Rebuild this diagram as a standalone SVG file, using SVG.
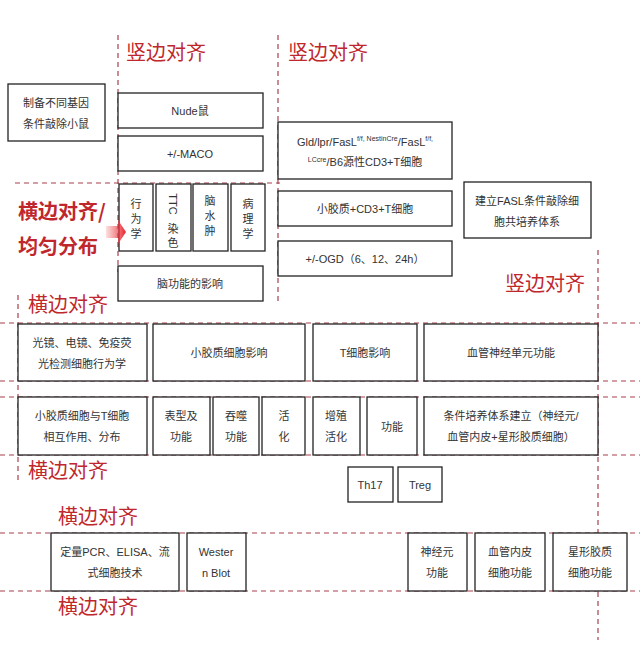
<svg xmlns="http://www.w3.org/2000/svg" width="640" height="645" viewBox="0 0 640 645">
<style>
.b{fill:#fff;stroke:#222;stroke-width:1.3}
.t{font-family:"Liberation Sans","Noto Sans CJK SC",sans-serif;font-size:11px;fill:#333;text-anchor:middle}
.r{font-family:"Noto Sans CJK SC",sans-serif;font-size:20px;fill:#c0272d}
.d{stroke:#a8404c;stroke-width:1.2;stroke-dasharray:5,4;fill:none}
</style>
<defs><linearGradient id="g" x1="0" x2="1"><stop offset="0" stop-color="#f06060" stop-opacity="0.2"/><stop offset="1" stop-color="#e8202a"/></linearGradient></defs>
<rect width="640" height="645" fill="#fff"/>
<g id="connectors">
<path class="d" d="M118,35V272M278,35V302M18,295V482M598,250V640M15,183H280M0,323H640M0,381H640M0,397H640M0,455H640M0,533H640M0,591H640"/>
</g>
<g id="labels">
<text class="r" x="126" y="60">竖边对齐</text>
<text class="r" x="288" y="60">竖边对齐</text>
<text class="r" x="505" y="291">竖边对齐</text>
<text class="r" x="18" y="219" font-weight="bold">横边对齐/</text>
<text class="r" x="18" y="254" font-weight="bold">均匀分布</text>
<text class="r" x="28" y="312">横边对齐</text>
<text class="r" x="28" y="478">横边对齐</text>
<text class="r" x="58" y="524">横边对齐</text>
<text class="r" x="58" y="614">横边对齐</text>
</g>
<g id="n1"><rect class="b" x="8" y="84" width="97" height="57"/><text class="t" x="56" y="107">制备不同基因</text><text class="t" x="56" y="128">条件敲除小鼠</text></g>
<g id="n2"><rect class="b" x="118" y="93" width="145" height="35"/><text class="t" x="190" y="115">Nude鼠</text></g>
<g id="n3"><rect class="b" x="118" y="136" width="145" height="35"/><text class="t" x="190" y="158">+/-MACO</text></g>
<g id="n4"><rect class="b" x="119" y="184" width="34" height="67"/><text class="t" x="136" y="208">行</text><text class="t" x="136" y="223">为</text><text class="t" x="136" y="238">学</text></g>
<g id="n5"><rect class="b" x="156" y="184" width="35" height="67"/><text class="t" x="0" y="0" transform="translate(169,204) rotate(90)" text-anchor="start">TTC</text><text class="t" x="173" y="233">染</text><text class="t" x="173" y="247">色</text></g>
<g id="n6"><rect class="b" x="193" y="184" width="35" height="67"/><text class="t" x="210" y="205">脑</text><text class="t" x="210" y="220">水</text><text class="t" x="210" y="235">肿</text></g>
<g id="n7"><rect class="b" x="231" y="184" width="34" height="67"/><text class="t" x="248" y="208">病</text><text class="t" x="248" y="223">理</text><text class="t" x="248" y="238">学</text></g>
<g id="n8"><rect class="b" x="118" y="266" width="145" height="35"/><text class="t" x="190" y="288">脑功能的影响</text></g>
<g id="n9"><rect class="b" x="278" y="122" width="174" height="57"/>
<text class="t" x="365" y="146">Gld/lpr/FasL<tspan font-size="7" dy="-5">f/f, NestinCre</tspan><tspan dy="5">/FasL</tspan><tspan font-size="7" dy="-5">f/f,</tspan></text>
<text class="t" x="365" y="166"><tspan font-size="7" dy="-4">LCcre</tspan><tspan dy="4">/B6源性CD3+T细胞</tspan></text></g>
<g id="n10"><rect class="b" x="278" y="191" width="174" height="35"/><text class="t" x="365" y="213">小胶质+CD3+T细胞</text></g>
<g id="n11"><rect class="b" x="278" y="241" width="174" height="35"/><text class="t" x="365" y="263">+/-OGD（6、12、24h）</text></g>
<g id="n12"><rect class="b" x="464" y="182" width="127" height="56"/><text class="t" x="527" y="205">建立FASL条件敲除细</text><text class="t" x="527" y="226">胞共培养体系</text></g>
<g id="n13"><rect class="b" x="18" y="324" width="129" height="57"/><text class="t" x="82" y="347">光镜、电镜、免疫荧</text><text class="t" x="82" y="368">光检测细胞行为学</text></g>
<g id="n14"><rect class="b" x="153" y="324" width="152" height="57"/><text class="t" x="229" y="357">小胶质细胞影响</text></g>
<g id="n15"><rect class="b" x="313" y="324" width="104" height="57"/><text class="t" x="365" y="357">T细胞影响</text></g>
<g id="n16"><rect class="b" x="424" y="324" width="174" height="57"/><text class="t" x="511" y="357">血管神经单元功能</text></g>
<g id="n17"><rect class="b" x="18" y="397" width="129" height="58"/><text class="t" x="82" y="420">小胶质细胞与T细胞</text><text class="t" x="82" y="441">相互作用、分布</text></g>
<g id="n18"><rect class="b" x="153" y="397" width="57" height="58"/><text class="t" x="181" y="420">表型及</text><text class="t" x="181" y="441">功能</text></g>
<g id="n19"><rect class="b" x="213" y="397" width="46" height="58"/><text class="t" x="236" y="420">吞噬</text><text class="t" x="236" y="441">功能</text></g>
<g id="n20"><rect class="b" x="262" y="397" width="43" height="58"/><text class="t" x="284" y="420">活</text><text class="t" x="284" y="441">化</text></g>
<g id="n21"><rect class="b" x="313" y="397" width="47" height="58"/><text class="t" x="336" y="420">增殖</text><text class="t" x="336" y="441">活化</text></g>
<g id="n22"><rect class="b" x="367" y="397" width="50" height="58"/><text class="t" x="392" y="431">功能</text></g>
<g id="n23"><rect class="b" x="424" y="397" width="174" height="58"/><text class="t" x="511" y="420">条件培养体系建立（神经元/</text><text class="t" x="511" y="441">血管内皮+星形胶质细胞）</text></g>
<g id="n24"><rect class="b" x="348" y="467" width="45" height="35"/><text class="t" x="370" y="489">Th17</text></g>
<g id="n25"><rect class="b" x="398" y="467" width="44" height="35"/><text class="t" x="420" y="489">Treg</text></g>
<g id="n26"><rect class="b" x="51" y="533" width="128" height="58"/><text class="t" x="115" y="556">定量PCR、ELISA、流</text><text class="t" x="115" y="577">式细胞技术</text></g>
<g id="n27"><rect class="b" x="187" y="533" width="59" height="58"/><text class="t" x="216" y="556">Wester</text><text class="t" x="216" y="577">n Blot</text></g>
<g id="n28"><rect class="b" x="408" y="533" width="59" height="58"/><text class="t" x="437" y="556">神经元</text><text class="t" x="437" y="577">功能</text></g>
<g id="n29"><rect class="b" x="475" y="533" width="70" height="58"/><text class="t" x="510" y="556">血管内皮</text><text class="t" x="510" y="577">细胞功能</text></g>
<g id="n30"><rect class="b" x="553" y="533" width="74" height="58"/><text class="t" x="590" y="556">星形胶质</text><text class="t" x="590" y="577">细胞功能</text></g>
<g id="arrow"><path d="M106,226H118V220L126,232L118,244V238H106Z" fill="url(#g)"/></g>
</svg>
